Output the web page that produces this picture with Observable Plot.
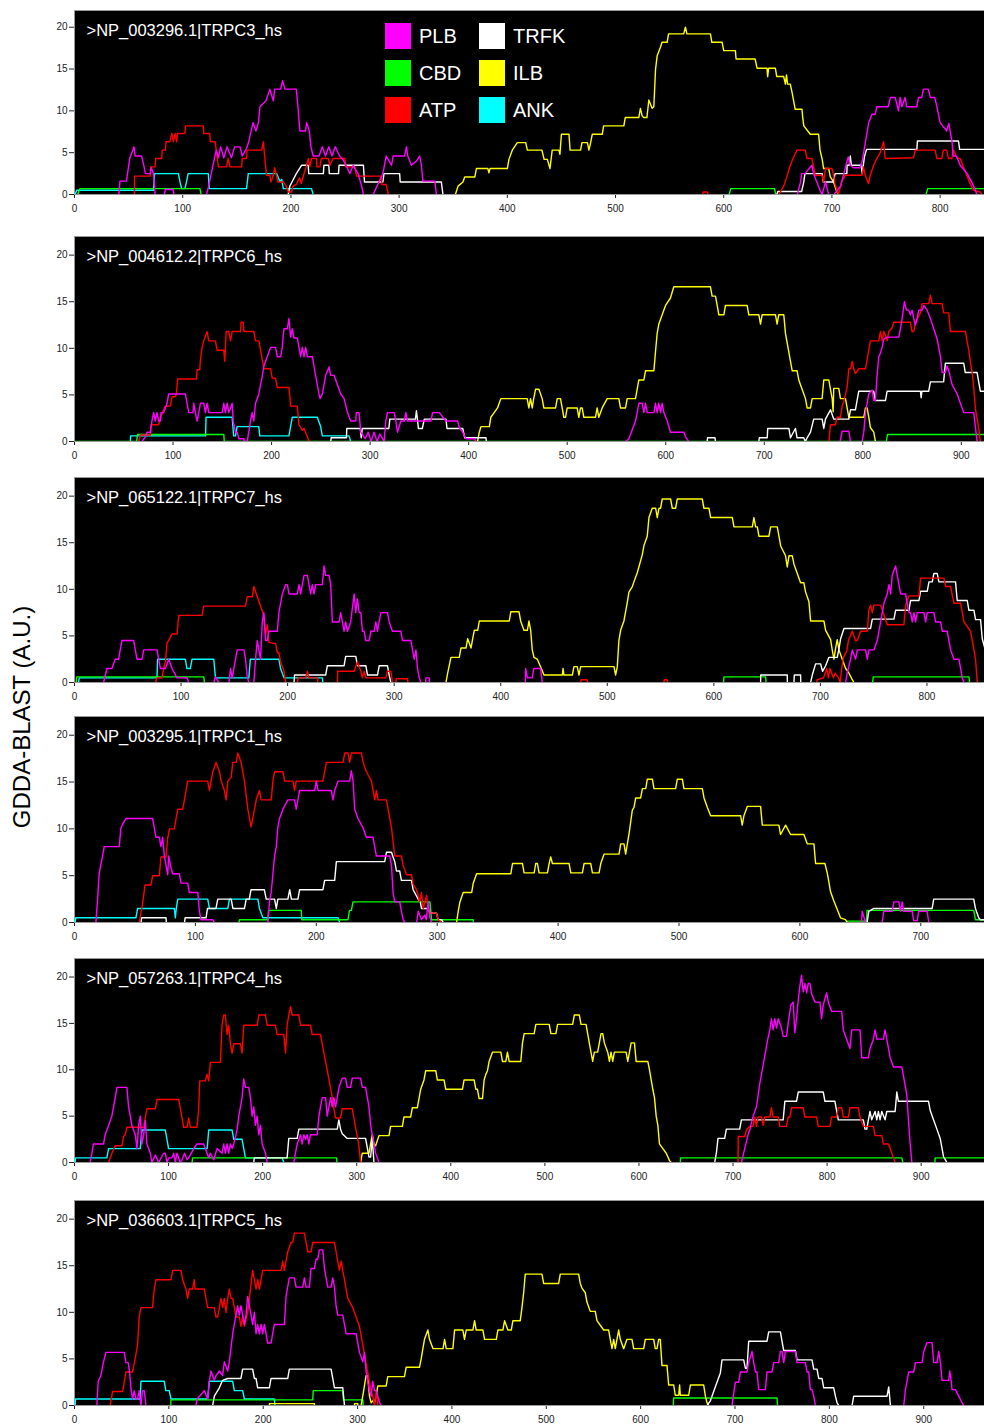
<!DOCTYPE html>
<html><head><meta charset="utf-8">
<script src="https://cdn.jsdelivr.net/npm/d3@7"></script>
<script src="https://cdn.jsdelivr.net/npm/@observablehq/plot@0.6"></script>
<style>
body{margin:0;background:#fff;width:984px;height:1425px;overflow:hidden;position:relative;font-family:"Liberation Sans",Arial,sans-serif}
.panel{position:absolute;left:0}
#ylab{position:absolute;left:22px;top:717px;transform:translate(-50%,-50%) rotate(-90deg);font-size:24px;white-space:nowrap;color:#000}
#legend{position:absolute;left:385px;top:23px;display:grid;grid-template-rows:repeat(3,37px);grid-auto-flow:column;grid-auto-columns:94px}
.li{display:flex;align-items:flex-start;height:37px}
.sw{width:26px;height:26px;margin-right:8px}
.lt{color:#fff;font-size:20px;line-height:26px}
</style></head>
<body>
<div id="ylab">GDDA-BLAST (A.U.)</div>
<script>
const N = NaN;
const seriesNames = ["PLB","CBD","ATP","TRFK","ILB","ANK"];
const seriesColors = ["#ff00ff","#00ff00","#ff0000","#ffffff","#ffff00","#00ffff"];
const panelTitles = [">NP_003296.1|TRPC3_hs",">NP_004612.2|TRPC6_hs",">NP_065122.1|TRPC7_hs",">NP_003295.1|TRPC1_hs",">NP_057263.1|TRPC4_hs",">NP_036603.1|TRPC5_hs"];
const panelXMax = [841, 923.5, 854, 752.7, 967.3, 964.4];
const yTicks = [0,5,10,15,20];

// ---- TRPC3 ----
const trpc3_PLB = [41,0, 42,1.6, 48,1.6, 49,2.5, 51,4.3, 55,5.7, 56,4.6, 62,4.6, 64,3.5, 65.5,2.5, 70,2.5, 71,3.2, 73,2.5, 74.5,0, N,N, 83,0, 84,0.6, 91,0.6, 92,0, N,N, 122,0, 124,1, 128,3.5, 131,5.3, 133,4.4, 135,5.7, 138,4.4, 141,5.7, 145,4.4, 148,5.7, 153,5.7, 155,4.6, 159,5.5, 161,6.3, 163,7.5, 165,8.6, 167.7,7.6, 170,8.6, 171.4,10.5, 177,11.2, 180.6,12.6, 183.7,11.2, 185,12.6, 190.5,12.6, 192.3,13.6, 194.5,12.6, 205,12.6, 206.8,10, 208.3,7.6, 213.5,7.6, 214.5,8.6, 217,7.6, 218.5,5.7, 220.6,4.6, 226,4.6, 229,5.7, 232,4.6, 235,5.7, 238,4.6, 241,5.7, 245,4.6, 248,4.2, 251,3.5, 254.5,2.5, 257.5,3.5, 262,2.5, 265,1.2, 267,0, N,N, 276,0, 285,2.5, 288,4.6, 293,3.5, 294.5,4.6, 305,4.6, 306.8,5.7, 308,4.6, 311.4,3.5, 316,4.0, 319,4.6, 320.6,3.5, 322,1.6, 333,1.6, 334.5,0, N,N, 668,0, 671,1.5, 672,2.5, 675,2.5, 681.5,3.5, 683,2.5, 686,1.5, 689,0.5, 691,0, 694,1.5, 697,0, N,N, 702,0, 708,1, 711,2.5, 715,4.5, 717,3.5, 720,3.2, 726,3.2, 728,4, 731,6.3, 734,8.6, 737,9.6, 740,9.6, 741.5,10.5, 752,10.5, 754,11.6, 758.5,11.6, 761.5,10, 763,11.6, 764.6,10.5, 767.7,11.6, 769,10.5, 778.5,10.5, 780,11.6, 783,11.6, 784.6,12.6, 789,12.6, 791,11.6, 795,11.6, 797,10.5, 800,8.6, 803,8.1, 806,7.6, 808,8.5, 811,6.3, 812,4.6, 815,4.6, 818.5,3.5, 825,2.5, 831,1, 834,0];
const trpc3_CBD = [3,0, 5,0.7, 116,0.7, 117,0, N,N, 605,0, 606.5,0.7, 647,0.7, 648,0, N,N, 787,0, 788.5,0.7, 841,0.7];
const trpc3_ATP = [55.4,0, 55.5,2.2, 70,2.2, 70.5,3.3, 74.5,3.3, 75,4.3, 80.6,4.3, 81,5.3, 84,5.3, 84.5,6.3, 88,6.3, 90,7.3, 91.4,6.3, 93,7.3, 94.5,6.3, 95,7.3, 102,7.3, 102.5,8.2, 119,8.2, 119.5,7.3, 125,7.3, 125.5,6.3, 130,6.3, 131,5.3, 133,3.3, 140.6,3.3, 142,4.3, 143.7,3.3, 154.5,3.3, 155,4.3, 159,4.3, 159.5,5.3, 173,5.3, 174.5,6.3, 176,4.2, 177.5,2.3, 180.6,2.3, 181.5,1.5, 183.7,2.3, 185,3.2, 186.5,2.3, 188,1.5, 193,1.5, 196,0.9, 197.5,0.3, 200.6,0.3, 202,1, 205,1.2, 208,2.0, 209.5,1.3, 211,2.0, 214.5,3.5, 216,4.3, 217.5,3.3, 219,4.3, 223.7,4.3, 224,3.3, 226.8,3.3, 228,4.3, 234.5,4.3, 236,3.5, 239,4.3, 250,4.3, 250.5,3.3, 259,3.3, 260.6,2.2, 283.7,2.2, 284,1.2, 288,1.2, 290,0, N,N, 580.6,0, 581,0.3, 585,0.3, 585.5,0, N,N, 650.8,0, 652.3,0.3, 655.4,1.0, 658.5,2.2, 661.5,3.5, 664,4.3, 667.7,5.3, 675.4,5.3, 677,4.3, 681.5,4.3, 683,3.3, 684.6,2.3, 690.8,2.3, 692.3,1.5, 694,3.1, 700,3.1, 701.5,2.3, 703,1.2, 706,0, 709,1.5, 712.3,2.3, 727.7,2.3, 729.2,3.3, 730.8,2.3, 733.8,1.3, 735.4,2.3, 738.5,3.5, 741.5,4.3, 744.6,5.0, 747.7,6.3, 749.2,4.3, 775.4,4.4, 777,5.3, 795.4,5.3, 797,4.3, 801.5,4.3, 803,5.3, 806,5.3, 807.7,4.3, 810.8,4.3, 812.3,5.3, 816,4.3, 818.5,4.3, 821.5,3.3, 824.6,2.3, 827.7,1.3, 830.8,0.5, 837,0.3, 838.5,0];
const trpc3_TRFK = [197.5,0, 199,1, 201,1.5, 205,2.5, 210,3.5, 216,3.5, 216.5,2.5, 230,2.5, 230.5,3.5, 235,3.5, 235.5,2.5, 244,2.5, 244.5,3.5, 267,3.5, 268,1.5, 285,1.5, 286,2.5, 300.5,2.5, 301,1.5, 339,1.5, 340.5,0, N,N, 649,0, 650,0.35, 672,0.35, 674,1.5, 675,2.5, 691,2.5, 692,1.5, 701,1.5, 703,2.5, 713.8,2.5, 714,3.5, 716,3.5, 717,4.6, 718,3.5, 727,3.5, 728,2.5, 730,4.5, 732,5.4, 778.5,5.4, 779,6.4, 817,6.4, 818,5.4, 841,5.4];
const trpc3_ILB = [352,0, 354.5,1, 359,1.5, 360.6,2.1, 370,2.1, 371.4,3.1, 382,3.1, 383,2.6, 384,3.1, 400,3.1, 401.5,4.2, 404.6,5.3, 409.2,6.2, 417,6.2, 418.5,5.3, 432,5.3, 434,4.2, 437,4.2, 439.4,3.1, 441.5,5.3, 447.7,5.3, 448.6,4.8, 450,7.2, 457,7.2, 458,5.3, 467.7,5.3, 469,6.2, 474,6.2, 475.4,5.3, 477,6.2, 478.5,7.2, 487.7,7.2, 489,8.2, 507.7,8.2, 509,9.2, 521.5,9.2, 523,10.3, 524.6,9.4, 526,9.2, 529,9.2, 530.8,11.3, 533.8,10.3, 535.4,10.5, 537,15, 538.5,16.6, 541.5,17.6, 543,18.2, 547.7,18.2, 549,19.2, 563,19.2, 564.6,20, 566,19.2, 587.7,19.2, 589,18.2, 598.5,18.2, 600,17.2, 610.8,17.2, 611.4,16.2, 629,16.2, 630.8,15.1, 640,15.1, 640.6,14.1, 641.5,15.1, 647.7,15.1, 649,14.1, 655.4,14.1, 657,13.2, 658,14.3, 659,13.2, 661.5,13.2, 663,12.3, 664.6,11.2, 666,10.2, 672.3,10.2, 673,9.2, 674,8.2, 680,7.2, 687.7,7.2, 689,5.3, 691,4.2, 692.3,3.1, 697,3.1, 698.5,2.1, 701.5,1.5, 704.6,0.3, 706,0];
const trpc3_ANK = [0.5,0, 2,0.5, 73,0.5, 74,2.5, 96,2.5, 97.5,1.5, 99,0.7, 102,0.7, 103.5,1.5, 105,2.5, 123.7,2.5, 124.5,0.7, 159,0.7, 160.6,2.5, 186.8,2.5, 190,1.5, 191.5,1.8, 193,0.7, 219,0.7, 220.6,0];

// ---- TRPC6 ----
const trpc6_PLB = [68.5,0, 71.9,0.5, 73.6,1.0, 77,1.0, 78.6,2.2, 80.3,3.1, 82,2.2, 83.7,3.1, 85.4,2.2, 87.1,2.2, 87.8,3.1, 90.5,3.1, 93.9,4.1, 95.6,5.1, 112.5,5.1, 114.2,4.1, 116,3.1, 120.3,3.1, 121,4.1, 122.7,3.1, 124.4,2.2, 126.1,3.1, 127.8,4.1, 131.2,4.1, 132.9,3.1, 134.6,4.1, 136.3,3.1, 149.8,3.1, 151.5,4.1, 153.2,3.1, 154.9,4.1, 156.6,3.1, 160,4.1, 161,2.2, 163.4,1.0, 165,1.0, 166.8,0.3, 171.9,0.3, 172.5,0, 175.3,0, 178.6,2.2, 180.3,3.1, 182,2.2, 183.7,4.1, 187.1,5.1, 188.8,6.1, 190.5,7.0, 192.2,8.1, 195.6,9.1, 199,10.1, 204,10.1, 205.8,9.1, 209.2,9.1, 210.8,10.1, 212.5,12.1, 216,12.1, 217.6,13.2, 219.3,11.2, 221,12.1, 222.7,11.1, 226.1,11.1, 229.5,9.1, 231.2,10.1, 232.9,9.1, 234.6,10.1, 236.3,9.1, 241.4,9.1, 243,8.1, 244.7,7.1, 246.4,6.1, 248.1,5.1, 249.2,4.6, 251.5,5.1, 253.2,6.1, 254.9,7.1, 258.3,8.0, 260,7.1, 263.4,7.1, 266.8,6.1, 270.2,5.1, 273.6,4.6, 277,3.1, 280.3,2.2, 285.4,2.2, 286,3.1, 288.8,3.1, 290.5,1.0, 295,0.3, 298,1, 301,0, 304,1, 307,0, 310,0.8, 314.2,0, 315.9,2.2, 317.6,3.1, 324.4,3.1, 326.1,2.2, 327.8,1.0, 331.2,2.2, 334.6,2.2, 336.3,3.1, 338,2.2, 361.7,2.2, 363.4,3.1, 370.2,3.1, 377,2.2, 388.8,2.2, 390.5,1.5, 393.9,1.0, 397.3,0.3, 405.8,0.3, 407.5,0, N,N, 559.2,0, 562.6,0.3, 569.3,2.2, 571,3.1, 572.7,4.1, 576.1,4.1, 577.8,3.1, 579.5,4.1, 581.2,3.1, 588,3.1, 589.6,4.1, 591.3,3.1, 593,4.1, 594.7,3.1, 596.4,4.1, 598.1,3.1, 601.5,2.2, 604.8,1.0, 618.4,1.0, 620.1,0.5, 623.4,0, N,N, 777,0, 779,1.1, 785.8,1.1, 787.5,0, N,N, 799.3,0, 801,1.0, 802.7,3.1, 804.4,4.1, 806,5.1, 807.7,5.3, 809.4,5.5, 811.1,4.4, 812.8,4.4, 814.5,7.1, 816.2,9.1, 817.9,9.5, 819.6,10.1, 821.3,11, 824.7,11.2, 836.5,11.2, 838.2,12.1, 839.9,13.2, 842.2,15, 844.3,14.1, 846.6,14.1, 848.3,13.6, 850,14.1, 851.7,13.2, 853.4,12.5, 855.1,13.2, 856.8,14.1, 860.2,14.1, 861.9,14.6, 865.2,14.1, 868.6,13.2, 872,12.1, 875.4,11, 878.8,9.1, 880.5,7.4, 883.8,7.4, 885.5,8.1, 887.2,7.6, 890.6,6.1, 895.7,5.1, 899,4.1, 902.4,3.1, 912.6,3.1, 914.3,1.5, 916,0];
const trpc6_CBD = [0,0, 63,0, 64,0.75, 151.5,0.75, 152,0, 824,0, 825,0.75, 923.5,0.75];
const trpc6_ATP = [65.1,0, 66.8,0.7, 77,0.7, 77.5,1.8, 85.4,1.8, 87.1,2.5, 88.8,3.0, 92.2,3.8, 97.3,3.8, 99,4.8, 102.4,4.8, 103.4,5.1, 104.7,6.7, 123.7,6.7, 124.4,7.7, 127.1,7.7, 127.8,8.8, 129.5,10.1, 131.2,10.8, 134.6,11.8, 136.3,10.8, 143,10.8, 144.7,9.8, 151.5,9.8, 152.5,8.6, 153.9,11.8, 156.6,11.8, 158.3,10.8, 160,11.8, 168.5,11.8, 169,12.8, 171.2,12.8, 171.9,11.8, 182,11.8, 183.7,10.8, 187.1,10.8, 190.5,8.8, 192.2,7.8, 199,7.8, 200.7,6.8, 204,6.8, 205.8,5.8, 217.6,5.8, 218.6,4.8, 219.3,3.8, 226.1,3.8, 227.8,1.8, 231.2,1.2, 232.9,1.4, 236.3,0.5, 238,0, N,N, 765.5,0, 767.2,1.8, 772.2,1.8, 773.9,2.6, 777.3,2.6, 779,3.8, 780.7,4.3, 784.1,5.8, 785.8,7.8, 787.5,7.8, 789.2,8.6, 790.8,7.8, 792.5,7.3, 795.9,7.8, 802.7,7.8, 804.4,8.8, 807.7,10.8, 816.2,10.8, 817.9,11.8, 819.6,10.8, 821.3,11.8, 824.7,10.8, 826.3,11.8, 829.7,12.2, 831.4,12.8, 848.3,12.8, 850,11.8, 851.7,11.8, 853.4,12.8, 858.5,13.8, 860.2,14.8, 866.9,14.8, 868.6,15.7, 870.3,14.8, 880.5,14.8, 882.1,13.8, 887.2,13.8, 888.9,11.8, 904.1,11.8, 905.8,10.8, 907.5,9.8, 909.2,8.5, 910.9,7.5, 912.6,5.8, 914.3,3.5, 917.6,1.5, 919.3,0];
const trpc6_TRFK = [260,0, 260.5,0.4, 276,0.4, 276.3,1.4, 290,1.4, 291,0.4, 292,1.4, 319,1.4, 320,2.4, 346,2.4, 347,3.3, 348,2.4, 349,1.4, 353,1.4, 355,2.4, 377,2.4, 378,1.4, 394,1.4, 396,0.4, 417.6,0.4, 418,0, N,N, 642,0, 642.5,0.4, 650,0.4, 650.5,0, N,N, 694.5,0, 695,0.4, 703,0.4, 703.5,1.4, 725,1.4, 726.6,0.4, 731.6,1.4, 733.3,0.4, 740,0.4, 741.8,0, 743.5,0.4, 746.9,1.0, 750.2,2.4, 758.7,2.4, 760.4,1.4, 762.1,2.4, 767.2,3.4, 770.5,2.4, 785.8,2.4, 787.5,3.4, 792.5,3.4, 794.2,4.4, 795.9,5.4, 811,5.4, 812.8,4.4, 823,4.4, 824.7,5.4, 858.5,5.4, 859.2,4.7, 860,5.4, 866.9,5.4, 868.6,6.4, 882,6.4, 883.8,8.4, 902.4,8.4, 904,7.4, 916,7.4, 917.6,6.4, 919.3,5.4, 923.5,5.4];
const trpc6_ILB = [409,0, 410.8,1.0, 412.5,1.6, 421,1.6, 422.5,2.6, 425.9,3.1, 429.3,3.6, 431,4.1, 432.7,4.6, 459.4,4.6, 461.1,3.6, 462.8,4.6, 464.5,3.6, 466,4.6, 467.9,5.6, 471.3,5.6, 474.6,4.6, 476.3,3.6, 488.2,3.6, 489.9,4.6, 493.2,4.6, 494.9,3.6, 496.6,2.6, 498.3,2.6, 500,3.6, 510.1,3.6, 511.8,2.6, 513.5,3.6, 515.2,3.6, 516.9,2.6, 528.7,2.6, 530.4,3.6, 532.1,2.6, 535.5,3.6, 540.6,4.6, 552.4,4.6, 554.1,3.6, 559.2,3.6, 560.9,4.6, 569.3,4.6, 571,5.6, 572.7,6.6, 577.8,6.6, 579.5,7.6, 588,7.6, 589.6,9.6, 591.3,11.6, 593,12.6, 596.4,13.6, 599.8,14.6, 604.8,15.4, 608.2,16.6, 645.4,16.6, 647.1,15.6, 650.5,15.6, 652.2,14.6, 653.9,13.6, 659,13.6, 660.6,14.6, 682.6,14.6, 684.3,13.6, 694.5,13.6, 696.2,12.6, 697.8,13.6, 711.4,13.6, 713,12.6, 714.7,13.6, 719.8,13.6, 721.5,11.6, 723.2,10.6, 726.6,8.6, 728.3,7.6, 733.3,7.6, 735,6.6, 738.4,5.6, 741.8,4.6, 743.5,3.6, 746.9,3.6, 748.6,4.6, 758.7,4.6, 760.4,6.6, 765.5,6.6, 767.2,5.6, 768.9,4.6, 769.9,3.2, 770.5,5.7, 775.6,5.7, 777.3,4.6, 782.4,4.6, 784.1,3.6, 785.8,2.6, 801,2.6, 802.7,3.6, 804.4,3.6, 806.1,2.6, 807.7,1.5, 811.1,1.0, 812.8,0];
const trpc6_ANK = [56.6,0, 57,0.6, 133,0.6, 133.5,2.6, 160,2.6, 161.5,0.6, 163.4,0.6, 165,1.6, 187,1.6, 188,0.6, 217.6,0.6, 221,2.6, 246.4,2.6, 249.8,1.6, 251.5,0.6, 278.6,0.6, 280.3,0];

// ---- TRPC7 ----
const trpc7_PLB = [27.3,0, 30.4,1.5, 35.1,1.5, 38.2,2.5, 41.4,2.5, 42.9,3.5, 44.5,4.5, 55.5,4.5, 57.1,3.5, 58.6,2.5, 63.3,2.5, 64.9,3.5, 77.4,3.5, 79,2.5, 80.6,1.5, 85.3,1.5, 88.4,2.5, 91.5,1.5, 96.2,0.5, 105.6,0.5, 107.2,0, N,N, 130.7,0, 132.3,0.6, 135.4,0, N,N, 145,0, 146.4,1.5, 148,0.5, 151.1,2.5, 152.7,3.5, 159,3.5, 160.5,2.5, 162.1,0.6, 163.6,0, N,N, 168.3,0, 169.9,2.5, 171.5,4.5, 173,3.5, 174.6,2.5, 176.2,6.5, 177.7,7.5, 179.3,4.5, 180.9,4.5, 182.4,5.5, 190.3,5.5, 191.8,7.5, 193.4,8.5, 195,9.5, 198.1,10.5, 199.7,10.5, 201.3,9.5, 209.1,9.5, 210.7,10.5, 212.2,9.5, 215.4,11.5, 218.5,11.5, 220.1,10.5, 221.6,9.5, 223.2,10.5, 224.8,9.5, 226.3,10.5, 232.6,10.5, 234.2,12.5, 235.7,11.5, 238.9,11.5, 240.4,10.5, 242,6.5, 248.3,6.5, 249.8,7.5, 251.4,6.5, 253,5.5, 254.5,6.5, 256.1,5.5, 259.2,6.5, 262.4,9.5, 263.9,7.5, 265.5,9.0, 267.1,7.5, 268.7,7.5, 270.2,5.5, 271.8,5.5, 273.4,4.5, 276.5,4.5, 278.1,5.5, 281.2,5.5, 282.8,6.5, 284.3,5.5, 285.9,6.5, 287.5,7.5, 293.7,7.5, 295.3,6.5, 298.4,5.5, 306.3,5.5, 307.8,4.5, 315.7,4.5, 317.2,3.5, 318.8,2.5, 320.4,3.5, 321.9,1.5, 323.5,0.5, 325.1,0, N,N, 329.5,0, 329.8,0.5, 332.9,0.5, 333.2,0, N,N, 423,0, 423.4,1.5, 425,0.5, 429.6,0.5, 431,1.5, 437.4,1.5, 439,0, N,N, 723.6,0, 725.2,1.0, 728.3,2.5, 729.9,3.5, 733,2.5, 734.6,3.5, 742.4,3.5, 744,2.5, 745.5,3.5, 750.2,3.5, 753.4,4.5, 756.5,6.5, 759.6,8.5, 762.7,9.5, 764.3,10.5, 765.9,9.5, 767.4,11.5, 770.6,12.5, 772.1,11.5, 773.7,10.5, 775.3,9.5, 779.9,9.5, 781.5,8.5, 783.1,7.5, 784.6,7.5, 786.2,6.5, 787.8,7.5, 789.3,6.5, 790.9,7.5, 797.2,7.5, 798.7,6.5, 800.3,7.5, 806.5,7.5, 808.1,6.5, 812.8,6.5, 814.4,5.5, 819,5.5, 820.6,4.5, 822.2,3.5, 825.3,2.5, 830,2.5, 831.6,1.5, 833.1,0.5, 834.7,0];
const trpc7_CBD = [1.6,0, 2,0.6, 121.3,0.6, 122,0, N,N, 609,0, 609.5,0.6, 648.6,0.6, 649,0, N,N, 749,0, 749.6,0.6, 839.4,0.6, 840,0];
const trpc7_ATP = [75.9,0, 77.4,0.5, 82.1,0.5, 83.7,1.5, 85.3,2.2, 86.8,4.2, 91.5,5.2, 96.2,5.2, 97.8,7.2, 119.7,7.2, 121.3,8.2, 160.5,8.2, 162.1,9.2, 166.8,9.2, 168.3,10.3, 171.5,9.2, 174.6,8.2, 177.7,7.2, 179.3,5.2, 180.9,6.2, 182.4,4.3, 187.1,4.2, 188.7,4.2, 190.3,3.2, 191.8,3.2, 193.4,2.2, 196.6,1.2, 198.1,0, N,N, 209.1,0, 210,0.5, 217,0.5, 218.5,1.2, 220,0.5, 227.9,0.5, 228.5,0, N,N, 246.7,0, 247,1.2, 262.4,1.2, 265.5,2.2, 268.7,1.2, 270.2,0.5, 271.8,1.2, 273.4,0.5, 292.2,0.5, 293.7,1.2, 296.9,1.2, 298.4,0, N,N, 301.6,0, 302,0.4, 312.5,0.4, 313,0, N,N, 475,0, 475.5,0.3, 481,0.3, 481.5,0, N,N, 553,0, 553.5,0.3, 556,0.3, 556.5,0, N,N, 696.4,0, 697,0.3, 703,0.5, 706,1.5, 707.5,0.5, 709,1.5, 712.2,0.5, 713.8,1, 716.9,0.5, 718.5,0, 720,1.5, 721.6,2.7, 724.8,3.4, 726.3,4.5, 729.9,5.5, 733,4.5, 734.6,4.5, 737.7,5.5, 744,5.5, 745.5,7.8, 747.1,8.3, 748.7,7.5, 750.2,8.3, 756.5,8.3, 758,7.8, 762.7,6.2, 778.4,6.2, 780,8.3, 783.1,9.3, 792.5,9.3, 794,11.2, 815.9,11.2, 817.5,10.3, 822.2,10.3, 825.3,8.5, 831.6,8.5, 834.7,6.5, 840.9,5.5, 844.1,3.5, 845.6,2.5, 847.2,0];
const trpc7_TRFK = [206,0, 206.5,0.8, 235.7,0.8, 237.3,1.8, 253,1.8, 254.5,2.8, 264,2.8, 265.5,1.8, 273.4,1.8, 275,0.8, 284.3,0.8, 286,1.8, 293.7,1.8, 295.3,0.8, 296.9,0, N,N, 643.9,0, 644,0.8, 668.9,0.8, 669,0, N,N, 675.2,0, 675.5,0.8, 681.4,0.8, 681.6,0, N,N, 690.8,0, 692.4,0.8, 695.5,2.0, 700.2,2.0, 702,1.2, 704.9,1.8, 708,2.7, 715.8,2.7, 717.4,3.6, 719,4.7, 722.1,5.8, 747.1,5.8, 748.7,6.8, 769,6.8, 770.6,7.75, 783.1,7.75, 784.6,8.8, 792.5,8.8, 794,9.8, 800.3,9.8, 801.9,10.8, 805,10.8, 806.5,11.7, 809.6,11.7, 811.2,10.8, 826.8,10.8, 828.4,8.8, 837.8,8.8, 839.4,7.75, 844.1,7.75, 845.6,6.75, 850.3,6.75, 851.9,4.7, 854,3.8];
const trpc7_ILB = [348.6,0, 350.2,1.0, 353.3,2.7, 361.1,2.7, 362.7,3.7, 367.4,3.7, 369,4.7, 372.1,3.7, 373.7,4.7, 375.2,5.6, 378.4,5.6, 379.9,6.6, 408,6.6, 409.5,7.6, 417.1,7.6, 418.7,6.6, 421.8,5.6, 425,5.6, 426.5,6.6, 428.1,5.6, 429.6,3.5, 431.2,2.7, 434.3,2.5, 437.4,1.7, 440.6,0.8, 457.8,0.8, 458.5,1.5, 459.3,0.8, 467.2,0.8, 468.7,1.7, 471.8,1.7, 473.4,0.8, 475,1.7, 506.3,1.7, 507.8,0.8, 509.4,1.7, 510.9,4.5, 512.5,5.6, 515.6,6.6, 517.2,7.6, 518.8,8.6, 520.3,9.7, 523.5,10.3, 525,10.8, 528.2,11.8, 532.8,13.7, 534.4,14.7, 537.5,15.7, 539.1,17.7, 542.2,18.7, 545.4,18.7, 546.9,17.7, 548.5,18.7, 550,18.7, 551.6,19.7, 559.4,19.7, 561,18.7, 564.1,18.7, 565.7,19.7, 589.1,19.7, 590.7,18.7, 595.4,18.7, 597,17.7, 617.3,17.7, 618.9,16.7, 636.1,16.7, 637.6,17.7, 639.2,16.7, 640.8,16.7, 642.3,15.7, 651.7,15.7, 653.3,16.7, 659.5,16.7, 661.1,15.7, 662.7,14.65, 667.3,13.6, 668.9,12.4, 670.5,13.6, 673.6,13.6, 675.2,12.7, 678.3,11.7, 681.4,10.7, 684.5,10.7, 686.1,9.7, 689.2,8.7, 690.8,6.6, 703.3,6.6, 704.9,5.6, 709.6,4.6, 711.1,3.5, 712.7,2.5, 714.3,3.7, 715.8,4.6, 717.4,3.5, 720.5,2.5, 723.7,1.5, 726.8,1.0, 729.9,0.3, 731.5,0];
const trpc7_ANK = [3.8,0, 4.5,0.5, 77.4,0.5, 78,2.5, 104,2.5, 105.5,1.5, 108.7,1.5, 110.3,2.5, 130.7,2.5, 132.3,0.5, 163.6,0.5, 165,2.5, 191.8,2.5, 193.4,1.5, 196.6,0.5, 232.6,0.5, 233,0];

// ---- TRPC1 ----
const trpc1_PLB = [17.7,0, 19.1,2.5, 20.4,5.2, 21.8,6.2, 23.2,7.1, 24.6,8.1, 37,8.1, 38.4,10.1, 39.8,10.5, 42.5,11.1, 64.6,11.1, 66,10.1, 67.4,9.1, 70.2,9.1, 71.5,8.1, 72.9,9.1, 74.3,7.1, 75.7,6.1, 77.1,5.1, 77.9,7.1, 79.3,6.1, 81.2,5.2, 86.7,5.2, 88.1,4.2, 93.6,4.2, 95,3.2, 102,3.2, 103.3,1.2, 104.7,0.3, 114.4,0.3, 115.7,0, N,N, 160,0, 161.3,2.3, 162.7,3.2, 164.1,5.2, 165.5,7.1, 166.9,8.1, 168.2,10.2, 169.6,11.1, 172.4,12.1, 176.5,13.1, 182,13.1, 183.4,12.1, 184.8,13.1, 186.2,14.1, 198.6,14.1, 200,15.1, 201.4,14.1, 212.4,14.1, 213.8,13.1, 215.2,14.1, 218,15.1, 227.6,15.1, 229,16.2, 230.4,15.1, 231.8,12.1, 234.5,11.1, 238.7,10.1, 241.4,9.1, 246.9,9.1, 248.3,8.1, 249.7,7.1, 260.8,7.1, 262.2,6.1, 263.5,3.2, 264.9,2.2, 269,2.2, 270.4,1.2, 271.8,0.3, 273.2,0, N,N, 283,0, 284.3,1.2, 287,0.3, 289.8,0.8, 291,0.3, 292.5,2.2, 294,0.5, 295.3,0, N,N, 651,0, 651.5,1.2, 654.3,0, N,N, 668,0, 669.4,1.2, 676.3,1.2, 677.7,2.2, 681.8,2.2, 683.2,1.2, 684.6,2.2, 685.9,1.2, 692.8,1.2, 694.2,0.2, 697,0.2, 698.3,1.2, 705.2,1.2, 706.6,0];
const trpc1_CBD = [136,0, 136.5,0.3, 160,0.3, 160.5,1.3, 187.6,1.3, 188,0.3, 226.2,0.3, 227.5,1.3, 229,1.3, 230.4,2.2, 294,2.2, 295.3,0.3, 329.8,0.3, 330,0, N,N, 639,0, 639.1,0.15, 655,0.15, 655.6,1.3, 743.8,1.3, 745.2,0.3, 752.7,0.3];
const trpc1_ATP = [53.6,0, 56.4,2.1, 58.3,4.0, 63.3,4.0, 64.6,5.0, 70.2,5.0, 71.5,7.0, 75.7,7.0, 77.1,9.0, 78.5,10.0, 82.6,10.0, 84,11.1, 85.4,12.1, 89.5,12.1, 90.9,13.1, 92.3,14.1, 93.6,15.1, 110.2,15.1, 111.6,14.1, 113,15.1, 114.4,16.1, 117.1,17.1, 119.9,16.1, 121.3,15.1, 124,14.1, 125.4,13.1, 126.8,15.1, 129.6,15.5, 130.9,17.1, 133.7,17.1, 135.1,18.1, 137.8,17.1, 140.6,15.1, 143.4,12.1, 146.1,10.2, 148.9,12.1, 150.3,13.1, 153,14.1, 154.4,13.1, 162.7,13.1, 164.1,15.1, 165.5,16.1, 172.4,16.1, 173.8,15.1, 180.7,15.1, 182,14.1, 183.4,15.1, 205.5,15.1, 206.9,16.1, 208.3,17.1, 222.1,17.1, 223.5,18.1, 226.2,18.1, 227.6,17.1, 229,18.1, 237.3,18.1, 238.7,17.1, 241.4,16.1, 245.6,15.1, 248.3,13.1, 249.7,14.1, 251.1,13.1, 258,13.1, 259.4,12.1, 262.2,10.1, 264.9,7.1, 270.4,7.1, 271.8,6.1, 274.6,5.1, 278.7,5.1, 280.1,4.1, 282.9,3.5, 285.6,2.2, 287,3.2, 288.4,1.5, 291.2,2.9, 292.5,1.5, 293.9,1.0, 299.4,1.0, 300.8,0.3, 303.6,0];
const trpc1_TRFK = [55,0, 55.5,0.5, 75.7,0.5, 76,0, N,N, 91,0, 91.5,0.5, 108.8,0.5, 110,1.5, 117,1.5, 118.5,2.5, 129.6,2.5, 131,1.5, 140.6,1.5, 142,2.5, 144.6,2.5, 146,3.5, 157,3.5, 158.6,2.5, 165.5,2.5, 166.9,1.5, 168.2,2.5, 176.5,2.5, 178,3.5, 179.4,2.5, 184.8,2.5, 186.2,3.5, 205.5,3.5, 206.9,4.5, 215.2,4.5, 216.6,6.5, 256.6,6.5, 258,7.5, 262.2,7.5, 263.5,7.0, 264.9,6.5, 266.3,5.5, 269,5.5, 270.4,4.5, 278.7,4.5, 280.1,3.5, 284.3,2.5, 286,2.2, 287,1.5, 292.5,1.5, 293.9,1.0, 299.4,1.0, 300.8,0.3, 303.6,0.3, 305,0, N,N, 655.6,0, 657,1.2, 661.2,1.5, 709.4,1.5, 710.7,2.5, 743.8,2.5, 745.2,1.5, 747.9,0.5, 749.3,0.3, 752.7,0.3];
const trpc1_ILB = [316,0, 317.4,1.2, 318.8,2.2, 321.5,3.2, 328.5,3.2, 329.8,4.2, 332.6,5.2, 360.9,5.2, 362.3,6.3, 370.5,6.3, 371.9,5.3, 380.2,5.3, 381.5,6.3, 382.9,6.3, 384.3,5.3, 391.2,5.3, 392.6,6.3, 393.9,7.0, 395.3,6.3, 409.1,6.3, 410.5,5.3, 420.1,5.3, 421.5,6.3, 427,6.3, 428.4,5.3, 433.9,5.3, 435.3,6.3, 438,7.3, 450.4,7.3, 451.8,8.4, 454.5,8.4, 455.9,7.3, 457.3,8.4, 458.7,9.5, 461.4,12.0, 462.8,12.3, 464.2,13.3, 468.3,13.3, 469.7,14.3, 472.5,14.3, 473.8,15.3, 478,15.3, 479.3,14.3, 497.2,14.3, 498.6,15.3, 502.8,15.3, 504.1,14.3, 519.3,14.3, 520.7,13.3, 523.4,12.3, 526.2,11.4, 551,11.4, 552.3,10.4, 553.7,11.4, 556.5,12.4, 567.5,12.4, 568.9,10.4, 582.6,10.4, 584,9.4, 588.2,10.4, 592.3,9.4, 603.3,9.4, 606.1,8.4, 611.6,8.4, 613,6.3, 620.7,6.3, 622.6,5.3, 624,4.3, 625.3,3.3, 628.1,2.3, 630.9,1.4, 633.6,0.5, 637.7,0.3, 639.1,0];
const trpc1_ANK = [0.5,0, 1,0.5, 50.8,0.5, 52.2,1.5, 82.6,1.5, 83.4,0.5, 84.2,1.5, 85.4,2.5, 110.2,2.5, 111.6,1.5, 126.8,1.5, 128.2,2.5, 151.7,2.5, 153,1.5, 155.8,0.5, 218,0.5, 219.3,0];

// ---- TRPC4 ----
const trpc4_PLB = [16.7,0, 20.2,2.0, 30.9,2.0, 32.6,3.0, 36.2,4.0, 39.7,5.0, 41.5,6.0, 43.3,7.0, 45.1,8.1, 55.7,8.1, 57.5,6.0, 59.3,5.0, 61,4.0, 64.6,3.0, 66.4,1.5, 68.1,4.0, 69.9,5.0, 71.7,2.0, 73.5,3.0, 75.2,4.5, 77,2.0, 80.6,1.0, 82.3,0, 86,0.8, 89.4,0, 94.7,1.0, 96.5,1.0, 98.3,0, 100.1,0.5, 103.6,0.5, 105.4,1.0, 107.2,0, 108.9,1.0, 112.5,0, 114.3,0.3, 117,1.0, 119.6,0.3, 121.4,0.5, 126.7,1.5, 130.2,2.0, 137.3,2.0, 139.1,1.5, 140.9,1.0, 142.7,0.5, 144.4,1.0, 148,0.3, 151.5,1.5, 156.8,1.0, 158.6,2.0, 160.4,1.0, 162.2,2.0, 163.9,1.0, 165.7,2.0, 167.5,1.5, 169.3,2.0, 172.8,3.5, 174.6,5.0, 176.4,6.0, 178.1,7.0, 179.9,9.0, 181.7,8.1, 185.2,8.1, 187,7.0, 188.8,5.0, 190.6,6.0, 192.3,4.0, 194.1,5.0, 195.9,3.0, 197.7,4.0, 199.4,2.0, 203,1.0, 204.8,0, N,N, 233.1,0, 236.7,2.0, 240.2,3.0, 242,2.0, 243.8,3.0, 245.6,2.5, 247.3,3.0, 249.1,2.0, 250.9,3.0, 258,3.0, 259.8,5.0, 261.5,6.0, 263.3,7.0, 266.9,7.0, 268.6,5.0, 270.4,6.0, 272.2,7.0, 274,6.0, 275.7,7.0, 277.5,6.0, 279.3,7.0, 281.1,8.1, 284.6,9.1, 288.1,9.1, 289.9,8.1, 293.5,8.1, 295.2,9.1, 304.1,9.1, 305.9,8.1, 309.4,8.1, 313,6.0, 314.8,4.0, 316.5,3.0, 318.3,2.0, 320.1,1.0, 321.9,0.5, 323.6,0, N,N, 708.9,0, 712.4,1.5, 716,3.0, 717.8,3.5, 721.3,5.0, 724.9,6.0, 728.4,8.5, 732,10.5, 735.5,12.5, 737.3,13.5, 739.1,14.3, 740.8,15.5, 742.6,14.3, 744.4,15.5, 746.2,14.5, 748,15.5, 751.5,14.5, 753.3,13.6, 756.8,13.6, 758.6,15, 761.5,17, 763.9,17.3, 765.7,14, 767.5,15.5, 769.3,17.5, 771,19, 772.8,20.2, 774.6,18.4, 776.4,19.3, 778.2,18.3, 779.9,19.3, 781.7,19.3, 783.5,18.2, 787,17.3, 792.4,17.3, 794.1,15.5, 795.9,17, 799.5,18.3, 801.2,17.3, 804.8,16.3, 815.5,16.3, 817.2,14.3, 824.3,12.3, 826.1,14.3, 835,14.3, 836.8,11.3, 843.9,11.3, 845.6,12.3, 849.2,13.3, 851,14.3, 852.8,13.3, 859.9,13.3, 861.6,14.3, 863.4,13.3, 865.2,12.3, 867,11.3, 870.5,10.3, 879.4,10.3, 881.2,9.3, 884.7,7.3, 886.5,4.5, 888.3,2.0, 890.1,0];
const trpc4_CBD = [125,0, 125.5,0.5, 278.6,0.5, 279,0, N,N, 644,0, 644.2,0.5, 879.4,0.5, 880.5,0, N,N, 914.5,0, 914.9,0.5, 967.3,0.5];
const trpc4_ATP = [36.2,0, 39.7,1.0, 43.3,1.8, 50.4,1.8, 52.2,2.8, 53.9,3.0, 55.7,3.8, 73.5,3.8, 75.2,4.8, 77,5.8, 85.9,5.8, 87.7,6.8, 110.7,6.8, 112.5,5.8, 114.3,4.8, 116,3.8, 119.6,3.8, 121.4,4.8, 123.1,3.8, 130.2,3.8, 132,5.8, 133.1,8.8, 139.1,8.8, 140.9,9.5, 142.7,8.8, 144.4,10.8, 155.1,10.8, 156.8,14.8, 158.6,15.9, 160.4,15.9, 162.2,13.8, 163.9,14.8, 165.7,12.8, 167.5,11.8, 169.3,12.8, 176.4,12.8, 178.1,11.8, 179.9,14.8, 194.1,14.8, 195.9,15.9, 203,15.9, 204.8,14.8, 213.6,14.8, 215.4,13.8, 222.5,13.8, 224.3,11.8, 226,14.8, 227.8,15.9, 229.6,16.8, 231.4,15.9, 238.5,15.9, 240.2,14.8, 250.9,14.8, 252.7,13.8, 261.5,13.8, 263.3,12.8, 265.1,11.8, 268.6,10.0, 272.2,8.0, 274,7.0, 275.7,5.8, 277.5,4.8, 282.8,4.8, 284.6,5.8, 295.2,5.8, 297,4.8, 298.8,3.8, 300.6,2.8, 302.3,1.8, 304.1,0, N,N, 705.3,0, 705.5,2.8, 712.4,2.8, 714.2,3.5, 717.8,3.9, 721.3,3.9, 723.1,4.9, 724.9,3.9, 726.6,4.9, 730.2,4.9, 732,4.0, 733.7,4.9, 739.1,4.9, 740.8,5.9, 742.6,4.9, 748,4.9, 749.7,3.9, 756.8,3.9, 758.6,4.9, 760.4,4.9, 762.2,5.9, 774.6,5.9, 776.4,4.9, 788.8,4.9, 790.6,3.9, 803,3.9, 804.8,4.9, 810.1,4.9, 811.9,5.9, 815.5,5.9, 817.2,4.9, 822.6,4.9, 824.3,5.9, 833.2,5.9, 835,4.9, 838.5,3.9, 849.2,3.9, 851,2.9, 858.1,2.9, 859.9,2.0, 865.2,2.0, 867,1.5, 870.5,0.5, 872.3,0];
const trpc4_TRFK = [190.6,0, 191,0.5, 226,0.5, 227.8,2.6, 236.7,2.6, 238.5,3.6, 279.3,3.6, 281,4.6, 282.8,3.6, 284.6,3.1, 289.9,2.6, 309.4,2.6, 311.2,1.6, 313,0.6, 314.8,0.6, 316.5,2.6, 318.3,0, N,N, 680.5,0, 682.3,1.0, 684,2.6, 691.1,2.6, 692.9,3.6, 707.1,3.6, 708.9,4.6, 753.3,4.6, 755.1,6.6, 767.5,6.6, 769.3,7.6, 795.9,7.6, 797.7,6.6, 808.3,6.6, 810.1,5.6, 811.9,4.6, 838.5,4.6, 840.3,3.6, 842.1,3.6, 843.9,4.6, 845.6,5.5, 847.4,4.6, 851,5.5, 852.8,4.6, 854.5,5.5, 856.3,4.6, 858.1,5.5, 861.6,4.6, 863.4,5.5, 872.3,5.5, 874.1,7.6, 875.8,6.6, 907.8,6.6, 909.6,5.6, 913.1,4.6, 916.7,3.6, 920.2,2.6, 922,1.6, 923.8,0.6, 927.4,0];
const trpc4_ILB = [304.1,0, 305.9,1.0, 313,1.0, 316.5,3.0, 318.3,2.0, 320.1,1.8, 323.6,2.9, 334.3,2.9, 336,3.9, 348.5,3.9, 350.2,4.9, 357.3,4.9, 359.1,5.9, 364.4,5.9, 366.2,6.9, 368,7.9, 371.5,8.9, 373.3,9.9, 384,9.9, 385.7,8.9, 392.8,8.9, 394.6,7.9, 412.4,7.9, 414.1,8.9, 424.8,8.9, 426.6,7.9, 428.3,7.9, 430.1,6.9, 433.7,6.9, 435.4,8.9, 437.2,9.5, 439,9.9, 440.7,10.9, 444.3,11.9, 453.2,11.9, 454.9,10.9, 458.5,10.9, 460.2,11.9, 462,10.9, 474.4,10.9, 476.2,12.9, 478,13.9, 488.6,13.9, 490.4,14.9, 504.6,14.9, 506.4,13.9, 511.7,13.9, 513.5,14.9, 529.5,14.9, 531.3,15.9, 536.6,15.9, 538.4,14.9, 543.7,14.9, 545.5,13.9, 547.2,12.9, 549,11.9, 550.8,10.9, 552.6,11.9, 556.1,11.9, 557.9,12.9, 559.7,13.9, 561.5,13.9, 563.2,12.9, 566.8,11.9, 568.6,10.9, 570.3,11.9, 572.1,10.9, 573.9,11.9, 586.3,11.9, 588.1,10.9, 589.9,11.9, 591.7,12.9, 595.2,12.9, 597,10.9, 609.4,10.9, 611.2,10, 613,8.9, 614.7,7.9, 616.5,7.0, 618.3,5.0, 620.1,4.0, 621.8,2.0, 625.4,1.5, 629,1.0, 632.5,0.2, 634.3,0];
const trpc4_ANK = [0.7,0, 1,0.5, 34.4,0.5, 36.2,1.5, 69.9,1.5, 71.7,3.5, 96.5,3.5, 98.3,2.5, 100,1.5, 141,1.5, 142.7,3.5, 167.5,3.5, 169.3,2.5, 178.1,2.5, 179.9,1.5, 181.7,0.5, 220.7,0.5, 222.5,0];

// ---- TRPC5 ----
const trpc5_PLB = [23.7,0, 25.1,2.6, 27.9,3.2, 29.7,4.2, 33.2,5.7, 52.7,5.7, 54.5,4.6, 56.9,4.6, 58.3,3.6, 60.1,1.6, 61.5,0.7, 63.3,1.6, 65.1,0.7, 66.8,0.7, 68.6,1.6, 70.4,0, 72.1,1.6, 73.9,1.6, 75.7,0, N,N, 128.7,0, 130,0.7, 137.6,1.6, 141.1,0.7, 142.9,2.6, 144.6,3.7, 148.2,2.7, 149.9,3.2, 153.5,3.7, 157,3.2, 158.8,4.7, 162.3,3.7, 164.1,4.7, 167.6,7.7, 169.4,8.7, 171.1,9.7, 172.9,10.7, 174.7,9.7, 176.4,10.7, 178.2,9.7, 180,8.7, 181.8,9.7, 183.5,11.7, 185.3,10.7, 187.1,9.7, 188.8,8.7, 190.6,10, 192.4,7.7, 194.1,8.7, 195.9,7.7, 197.7,8.7, 199.4,7.7, 201.2,8.7, 203,7.7, 204.7,6.7, 208.3,6.7, 210,7.7, 211.8,8.7, 222.4,8.7, 224.2,11.7, 225.9,12.7, 227.7,13.7, 233,13.7, 234.8,12.7, 241.9,12.7, 243.6,13.7, 245.4,12.7, 248.9,12.7, 250.7,14.7, 254.2,14.7, 256,15.7, 257.8,15.7, 259.5,16.7, 263.1,16.7, 264.9,14.7, 266.6,13.7, 268.4,12.7, 271.9,12.7, 273.7,13.7, 275.5,12.7, 277.2,10.7, 279,9.7, 284.3,9.7, 286.1,8.7, 287.8,7.7, 298.4,7.7, 300.2,6.7, 302,5.7, 305.5,4.7, 307.3,5.7, 309,3.7, 310.8,2.6, 312.6,1.6, 314.4,1.0, 316.1,2.6, 317.9,1.6, 319.7,1.6, 321.4,1.0, 323.2,0.3, 325,0, N,N, 696.8,0, 698.6,1.3, 700.4,2.5, 703.9,2.5, 705.7,3.6, 712.7,3.6, 714.5,4.6, 718,5.8, 719.8,4.6, 721.6,3.6, 723.3,3.6, 725.1,1.7, 732.2,1.7, 733.9,3.6, 739.2,3.6, 741,4.6, 746.3,4.6, 748.1,5.8, 749.8,5.8, 751.6,4.6, 753.4,5.8, 764,5.8, 765.7,4.6, 774.6,4.6, 776.3,3.6, 778.1,3.6, 779.9,1.7, 781.6,1.7, 783.4,1.0, 785.2,0, N,N, 878.8,0, 880.6,1.7, 884.1,3.6, 889.4,3.6, 891.2,4.6, 898.2,4.6, 900,5.8, 903.5,6.75, 908.8,6.75, 910.6,4.6, 914.1,4.6, 915.9,5.8, 917.7,4.6, 919.4,2.7, 926.5,2.7, 927.6,3.7, 929,2.7, 930,1.7, 933.6,1.7, 937.1,1.0, 940.6,0.3, 942.4,0];
const trpc5_CBD = [102,0, 102.2,0.6, 252.5,0.6, 253,1.6, 284.3,1.6, 285,0.6, 305.5,0.6, 306,0, N,N, 634.5,0, 635,0.8, 744.5,0.8, 745,0];
const trpc5_ATP = [37.8,0, 40.3,1.5, 50.9,1.5, 52.7,2.5, 54.5,3.6, 61.5,3.6, 63.3,4.5, 65.1,5.5, 66.8,6.5, 68.6,9.6, 70.4,10.5, 82.7,10.5, 84.5,12.5, 86.3,13.5, 102.2,13.5, 104,14.5, 112.8,14.5, 114.6,13.5, 118.1,12.5, 119.9,11.5, 121.6,12.5, 125.2,12.5, 126.9,13.5, 127.7,12.5, 137.6,12.5, 139.3,11.5, 141.1,10.5, 148.2,10.5, 149.9,9.5, 151.7,9.5, 153.5,10.5, 155.2,11.5, 157,10.5, 158.8,11.5, 160.5,10, 162.3,11.5, 164.1,12.5, 165.8,11.5, 167.6,11.5, 169.4,10.5, 171.1,9.5, 174.7,9.5, 176.4,8.5, 178.2,9.5, 180,8.5, 183.5,10, 185.3,11.5, 188.8,14.5, 190.6,13.5, 192.4,12.5, 194.1,13.5, 195.9,12.5, 197.7,13.5, 199.4,14.5, 218.9,14.5, 220.7,15.5, 222.4,14.5, 224.2,15.5, 226,16.5, 229.5,17.5, 231.3,17.5, 233,18.5, 243.6,18.5, 245.4,17.5, 247.2,16.5, 250.7,16.5, 252.5,17.5, 275.5,17.5, 277.2,16.5, 279,15.5, 280.8,14.5, 282.6,15.5, 284.3,14.5, 286.1,13.5, 287.8,12.5, 289.6,11.5, 294.9,10.5, 298.4,9.5, 302,8.5, 305.5,6.5, 307.3,5.5, 309,4.5, 310.8,3.5, 312.6,2.5, 314.4,1.5, 316.1,1.0, 317.9,0, 319.7,1.5, 321.4,0];
const trpc5_TRFK = [146.4,0, 148.2,1.0, 153.5,1.9, 157,2.7, 162.3,2.9, 176.4,2.9, 178.2,3.9, 188.8,3.9, 190.6,2.9, 192.4,2.9, 194.1,1.9, 206.5,1.9, 208.3,2.9, 226,2.9, 227.7,3.9, 271.9,3.9, 273.7,2.9, 275.5,1.9, 284.3,1.9, 286.1,0, N,N, 670.3,0, 673.9,0.5, 677.4,1.5, 680.9,2.5, 684.5,3.5, 686.2,4.9, 709.2,4.9, 711,4.0, 712.7,4.0, 714.5,6.9, 733.9,6.9, 735.7,7.9, 748.1,7.9, 749.8,6.9, 751.6,5.9, 764,5.9, 765.7,4.9, 781.6,4.9, 783.4,3.9, 786.9,3.9, 788.7,2.9, 792.2,2.9, 794,1.9, 804.6,1.9, 806.4,1.0, 808.1,0.3, 809.9,0, N,N, 824,0, 825.8,1.0, 861.1,1.0, 862.9,2.0, 864.7,0];
const trpc5_ILB = [206.5,0, 206.6,0.2, 254.2,0.2, 254.3,0, N,N, 296.7,0, 296.8,0.2, 300.2,0.2, 300.3,0, N,N, 303.7,0, 305.5,1.0, 309,3.2, 310.8,3.2, 312.6,1.0, 314.4,0.3, 316.1,0.5, 317.9,0.3, 319.7,1.0, 321.4,2.1, 330.3,2.1, 332,3.1, 349.7,3.1, 351.5,4.1, 365.6,4.1, 367.4,5.0, 369.2,6.1, 370.9,7.1, 374.5,8.1, 376.2,7.1, 380,6.1, 390.6,6.1, 392.2,7.1, 394,6.1, 401,6.1, 402.8,8.1, 411.6,8.1, 413.3,7.1, 415.1,8.1, 422.2,8.1, 424,9.1, 425.7,8.1, 432.8,8.1, 434.6,7.1, 447,7.1, 448.7,8.1, 454,8.1, 455.8,9.1, 459.3,8.1, 462.9,8.1, 464.6,9.1, 472.4,9.1, 474.2,10.5, 476,12.1, 477.7,14.1, 495.4,14.1, 497.2,13.1, 513.1,13.1, 514.8,14.1, 534.3,14.1, 536,13.1, 537.8,12.6, 541.3,12.1, 543.1,11.1, 546.6,10.1, 551.9,10.1, 553.7,9.1, 560.8,8.1, 566.1,8.1, 567.8,7.1, 569.6,6.1, 571.4,7.1, 573.1,6.1, 576.7,8.1, 578.4,7.1, 582,6.1, 585.5,7.1, 590.8,7.1, 592.6,6.1, 603.2,6.1, 604.9,7.1, 613.8,7.1, 615.5,6.1, 617.3,6.1, 619.1,7.1, 620.8,7.1, 622.6,4.3, 627.9,4.3, 629.7,2.2, 635,2.2, 636.7,1.1, 640.3,1.1, 641.3,2.2, 642,1.1, 650.9,1.1, 652.7,2.2, 666.8,2.2, 668.6,1.0, 670.3,0.3, 672.1,0];
const trpc5_ANK = [0.7,0, 1,0.7, 69.7,0.7, 70.4,2.6, 95.1,2.6, 96.8,1.6, 100.4,1.6, 102.2,0.7, 141.1,0.7, 142.9,2.6, 167.6,2.6, 169.4,1.6, 178.2,1.6, 180,0.7, 211.8,0.7, 212.5,0];

const panelSeries = [
  {PLB:trpc3_PLB, CBD:trpc3_CBD, ATP:trpc3_ATP, TRFK:trpc3_TRFK, ILB:trpc3_ILB, ANK:trpc3_ANK},
  {PLB:trpc6_PLB, CBD:trpc6_CBD, ATP:trpc6_ATP, TRFK:trpc6_TRFK, ILB:trpc6_ILB, ANK:trpc6_ANK},
  {PLB:trpc7_PLB, CBD:trpc7_CBD, ATP:trpc7_ATP, TRFK:trpc7_TRFK, ILB:trpc7_ILB, ANK:trpc7_ANK},
  {PLB:trpc1_PLB, CBD:trpc1_CBD, ATP:trpc1_ATP, TRFK:trpc1_TRFK, ILB:trpc1_ILB, ANK:trpc1_ANK},
  {PLB:trpc4_PLB, CBD:trpc4_CBD, ATP:trpc4_ATP, TRFK:trpc4_TRFK, ILB:trpc4_ILB, ANK:trpc4_ANK},
  {PLB:trpc5_PLB, CBD:trpc5_CBD, ATP:trpc5_ATP, TRFK:trpc5_TRFK, ILB:trpc5_ILB, ANK:trpc5_ANK}
];

// layout (pixel placement of each panel's plotting area)
const layout = [
  {top:10, h:184}, {top:236, h:205}, {top:477, h:205},
  {top:716, h:206}, {top:958, h:204}, {top:1200, h:205}
];
const drawOrder = ["ANK","CBD","ILB","TRFK","ATP","PLB"];

function toRows(arr){const r=[];for(let i=0;i<arr.length;i+=2)r.push({x:arr[i],y:arr[i+1]});return r;}

panelTitles.forEach((title, p) => {
  const L = layout[p];
  const marks = [Plot.frame({fill:"black", stroke:"#9a9a9a"})];
  for (const name of drawOrder) {
    const color = seriesColors[seriesNames.indexOf(name)];
    marks.push(Plot.line(toRows(panelSeries[p][name]), {x:"x", y:"y", stroke:color, strokeWidth:1.4, clip:true}));
  }
  marks.push(Plot.text([title], {frameAnchor:"top-left", dx:12, dy:14, lineAnchor:"top", fill:"white", fontSize:16.5, fontFamily:"Liberation Sans, Arial, sans-serif"}));
  const chart = Plot.plot({
    width:984, height:L.h + 1 + 30,
    marginLeft:74, marginRight:0, marginTop:1, marginBottom:30,
    style:{fontSize:"10px", fontFamily:"Liberation Sans, Arial, sans-serif", color:"#222", background:"transparent", overflow:"visible"},
    x:{domain:[0, panelXMax[p]], ticks:d3.range(0, panelXMax[p], 100), tickSize:4, tickPadding:6, tickFormat:d=>String(d), label:null},
    y:{domain:[0,22], ticks:yTicks, tickSize:5, tickPadding:2, label:null},
    marks
  });
  chart.classList.add("panel");
  chart.style.top = (L.top - 1) + "px";
  chart.style.position = "absolute";
  document.body.appendChild(chart);
});

// legend
const leg = document.createElement("div");
leg.id = "legend";
seriesNames.forEach((n,i) => {
  const it = document.createElement("div"); it.className = "li";
  const sw = document.createElement("div"); sw.className = "sw"; sw.style.background = seriesColors[i];
  const t = document.createElement("span"); t.className = "lt"; t.textContent = n;
  it.appendChild(sw); it.appendChild(t); leg.appendChild(it);
});
document.body.appendChild(leg);
</script>
</body></html>
